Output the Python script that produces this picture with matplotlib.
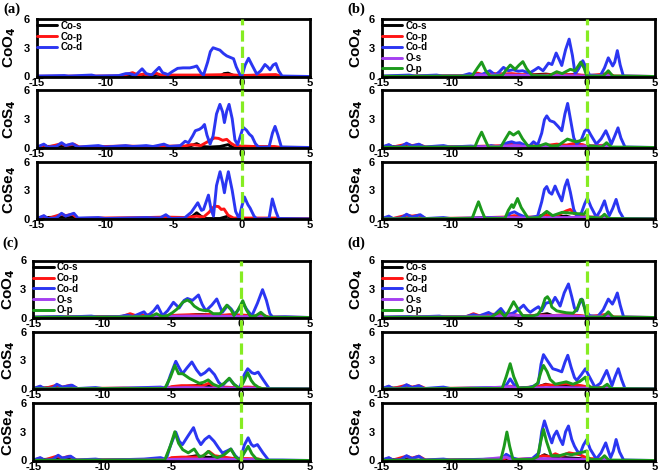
import matplotlib
matplotlib.use("Agg")
import matplotlib.pyplot as plt

plt.rcParams['font.family'] = ['Liberation Sans', 'DejaVu Sans']
plt.rcParams['font.weight'] = 'bold'
plt.rcParams['axes.unicode_minus'] = False

W, H = 661, 474

# energy axis / ticks
XTICKS = [-15, -10, -5, 0, 5]
YTICKS = [0, 3, 6]
ROW_NAMES = ['CoO$_\\mathbf{4}$', 'CoS$_\\mathbf{4}$', 'CoSe$_\\mathbf{4}$']

# ---------------- (a) ----------------
A_COO4 = {
    'Co-s': [(-15, 0), (-6.6, 0), (-6.2, 0.25), (-5.8, 0), (-1.6, 0), (-1.3, 0.3), (-1.0, 0.35), (-0.6, 0.1), (-0.3, 0), (5, 0)],
    'Co-p': [(-15, 0.02), (-9, 0.05), (-8.5, 0.2), (-8.0, 0.4), (-7.6, 0.15), (-7.2, 0.25), (-6.8, 0.1), (-6.3, 0.35), (-5.8, 0.1),
             (-5, 0.15), (-3, 0.15), (-1, 0.2), (0, 0.1), (1, 0.15), (2.5, 0.2), (2.9, 0), (5, 0)],
    'Co-d': [(-15, 0.05), (-13, 0.1), (-12.7, 0.05), (-11, 0.15), (-10.7, 0.05), (-9, 0.1), (-8.5, 0.3), (-8.2, 0.3), (-7.8, 0.1),
             (-7.3, 0.8), (-7.0, 0.3), (-6.6, 0.15), (-6.3, 0.6), (-6.05, 0.95), (-5.8, 0.4), (-5.4, 0.2), (-5.1, 0.5), (-4.7, 0.85),
             (-4.3, 0.9), (-3.8, 0.9), (-3.5, 1.0), (-3.3, 1.1), (-3.0, 0.4), (-2.8, 0.15), (-2.5, 1.5), (-2.3, 2.6), (-2.1, 3.0),
             (-1.8, 2.85), (-1.6, 2.75), (-1.34, 2.4), (-1.1, 2.15), (-0.85, 2.0), (-0.6, 1.85), (-0.4, 1.0), (-0.1, 0.1), (0.0, 0.0),
             (0.25, 1.2), (0.5, 1.9), (0.75, 1.2), (1.1, 0.25), (1.4, 0.6), (1.7, 1.25), (1.9, 1.0), (2.07, 0.7), (2.3, 1.2),
             (2.5, 1.35), (2.7, 0.6), (2.95, 0.05), (5, 0.0)],
}
A_COS4 = {
    'Co-s': [(-15, 0), (-14.5, 0.1), (-13.2, 0.15), (-12.3, 0.1), (-12, 0), (-4.2, 0), (-3.8, 0.15), (-3.3, 0.4), (-2.9, 0.1),
             (-2.3, 0.05), (-1.6, 0.1), (-1.0, 0.3), (-0.7, 0.05), (5, 0)],
    'Co-p': [(-15, 0.02), (-14.5, 0.25), (-14.2, 0.05), (-13.2, 0.4), (-12.9, 0.2), (-12.3, 0.35), (-11.9, 0.05), (-8.5, 0.15),
             (-7, 0.1), (-5, 0.15), (-4.2, 0.15), (-3.7, 0.3), (-3.0, 0.2), (-2.5, 0.6), (-2.0, 1.0), (-1.7, 0.95), (-1.4, 0.75),
             (-1.1, 0.85), (-0.8, 0.45), (-0.5, 0.2), (0, 0.15), (1.0, 0.1), (2.4, 0.1), (2.8, 0.0), (5, 0)],
    'Co-d': [(-15, 0.05), (-14.5, 0.35), (-14.2, 0.05), (-13.6, 0.1), (-13.2, 0.5), (-12.9, 0.2), (-12.4, 0.4), (-12.0, 0.05),
             (-10.5, 0.2), (-10.0, 0.05), (-8.5, 0.2), (-8.0, 0.1), (-7.0, 0.2), (-6.5, 0.1), (-5.7, 0.35), (-5.3, 0.1), (-4.5, 0.2),
             (-4.15, 0.65), (-3.9, 0.5), (-3.6, 1.2), (-3.4, 1.75), (-3.1, 1.9), (-2.9, 2.1), (-2.73, 2.4), (-2.55, 1.3), (-2.32, 0.35),
             (-2.1, 1.2), (-1.85, 3.5), (-1.6, 4.5), (-1.4, 3.7), (-1.27, 2.6), (-1.1, 3.8), (-0.93, 4.5), (-0.7, 3.0), (-0.5, 0.8),
             (-0.3, 0.3), (-0.1, 1.2), (0.1, 2.1), (0.35, 1.8), (0.55, 1.4), (0.75, 1.15), (1.0, 0.4), (1.25, 0.02), (2.0, 0.05),
             (2.25, 1.5), (2.44, 2.2), (2.65, 1.3), (2.9, 0.05), (5, 0)],
}
A_COSE4 = {
    'Co-s': [(-15, 0), (-14.5, 0.15), (-13.2, 0.2), (-12.3, 0.2), (-12, 0), (-4.0, 0), (-3.6, 0.3), (-3.3, 0.65), (-3.0, 0.3),
             (-2.7, 0.05), (-1.6, 0.05), (-1.0, 0.3), (-0.7, 0.05), (5, 0)],
    'Co-p': [(-15, 0.02), (-14.5, 0.3), (-14.2, 0.05), (-13.2, 0.5), (-12.9, 0.35), (-12.4, 0.5), (-12.0, 0.05), (-10.5, 0.1),
             (-7, 0.15), (-5.6, 0.2), (-4, 0.15), (-3.3, 0.3), (-2.8, 0.2), (-2.4, 0.7), (-2.0, 1.35), (-1.7, 1.3), (-1.5, 1.0),
             (-1.3, 1.05), (-1.0, 0.4), (-0.6, 0.1), (0, 0.1), (2.5, 0.1), (2.8, 0), (5, 0)],
    'Co-d': [(-15, 0.05), (-14.5, 0.35), (-14.2, 0.05), (-13.6, 0.1), (-13.2, 0.6), (-12.9, 0.3), (-12.3, 0.6), (-12.0, 0.1),
             (-10.5, 0.15), (-10, 0.05), (-7, 0.15), (-6, 0.1), (-5.56, 0.45), (-5.2, 0.05), (-4.2, 0.1), (-3.7, 0.7), (-3.22, 1.7),
             (-2.95, 0.9), (-2.8, 1.0), (-2.44, 2.5), (-2.25, 1.0), (-2.07, 0.3), (-1.85, 3.5), (-1.59, 4.95), (-1.4, 3.8),
             (-1.27, 2.75), (-1.15, 3.8), (-0.98, 4.95), (-0.7, 3.0), (-0.45, 0.8), (-0.2, 0.05), (0.0, 1.3), (0.2, 2.3), (0.45, 1.5),
             (0.61, 1.15), (0.9, 0.3), (1.1, 0.0), (2.0, 0.05), (2.24, 2.1), (2.5, 0.8), (2.7, 0.05), (5, 0)],
}

# ---------------- (b) ----------------
B_COO4 = {
    'Co-s': [(-15, 0), (-8.5, 0), (-8.1, 0.3), (-7.8, 0.1), (-6.2, 0.25), (-5, 0.1), (-3, 0.25), (-2, 0.1), (-1, 0.2), (0, 0.05),
             (1.6, 0.15), (2, 0), (5, 0)],
    'Co-p': [(-15, 0.02), (-8.6, 0.1), (-8.0, 0.35), (-7.6, 0.2), (-6.8, 0.3), (-6.2, 0.25), (-5.5, 0.3), (-4.8, 0.2), (-3.5, 0.15),
             (-2.4, 0.2), (-1.5, 0.2), (-0.5, 0.15), (0.2, 0.1), (1.6, 0.3), (2.0, 0.05), (5, 0)],
    'Co-d': [(-15, 0.05), (-13, 0.15), (-12.6, 0.05), (-11, 0.15), (-10.6, 0.05), (-9.2, 0.05), (-8.6, 0.3), (-8.2, 0.15),
             (-7.7, 0.2), (-7.1, 0.6), (-6.7, 0.15), (-6.4, 0.5), (-6.1, 0.95), (-5.75, 0.6), (-5.4, 0.7), (-5.0, 0.55), (-4.7, 0.6),
             (-4.2, 0.35), (-3.8, 0.7), (-3.54, 0.95), (-3.2, 0.6), (-2.8, 1.4), (-2.55, 1.25), (-2.24, 2.45), (-2.0, 1.7),
             (-1.83, 1.15), (-1.55, 2.8), (-1.29, 3.9), (-1.05, 2.2), (-0.85, 0.25), (-0.6, 0.8), (-0.29, 1.65), (0.0, 0.8),
             (0.2, 0.15), (1.0, 0.1), (1.3, 0.9), (1.58, 1.95), (1.9, 1.1), (2.05, 1.5), (2.24, 2.7), (2.45, 1.2), (2.68, 0.05), (5, 0)],
    'O-s': [(-15, 0), (-8.5, 0.05), (-8, 0.15), (-6, 0.15), (-4, 0.1), (-2, 0.1), (0, 0.05), (1.6, 0.1), (2, 0), (5, 0)],
    'O-p': [(-15, 0.02), (-8.4, 0.05), (-8.0, 0.9), (-7.7, 1.5), (-7.4, 0.6), (-7.1, 0.05), (-6.2, 0.1), (-5.9, 0.7), (-5.6, 1.2),
            (-5.25, 0.75), (-4.95, 1.2), (-4.68, 1.55), (-4.4, 0.8), (-4.0, 0.1), (-2.8, 0.05), (-2.2, 0.5), (-1.8, 0.3), (-1.2, 0.75),
            (-0.85, 0.6), (-0.44, 1.5), (-0.2, 0.9), (0.0, 0.05), (1.2, 0.05), (1.58, 0.6), (1.9, 0.05), (5, 0)],
}
B_COS4 = {
    'Co-s': [(-15, 0), (-14.5, 0.1), (-13.2, 0.1), (-12, 0), (-6, 0.1), (-5.3, 0.3), (-4.8, 0.15), (-3, 0.1), (-1.5, 0.2), (0, 0.1),
             (1.5, 0.1), (1.8, 0), (5, 0)],
    'Co-p': [(-15, 0.02), (-14.5, 0.25), (-14.2, 0.05), (-13.2, 0.35), (-12.8, 0.2), (-12.3, 0.3), (-11.8, 0.05), (-8.5, 0.1),
             (-6, 0.2), (-5.3, 0.4), (-4.8, 0.35), (-4.3, 0.15), (-3, 0.2), (-2.2, 0.35), (-1.5, 0.25), (-1.0, 0.4), (-0.3, 0.3),
             (0.0, 0.15), (1.5, 0.25), (1.8, 0), (5, 0)],
    'Co-d': [(-15, 0.05), (-14.5, 0.3), (-14.2, 0.05), (-13.6, 0.1), (-13.2, 0.45), (-12.8, 0.15), (-12.3, 0.35), (-11.9, 0.05),
             (-10.5, 0.2), (-10, 0.05), (-8.5, 0.15), (-7.5, 0.05), (-7.0, 0.2), (-6.5, 0.05), (-5.8, 0.5), (-5.5, 0.6), (-5.2, 0.45),
             (-4.9, 0.5), (-4.5, 0.2), (-4.2, 0.15), (-3.9, 0.6), (-3.6, 0.25), (-3.3, 1.5), (-3.1, 2.9), (-2.93, 3.3), (-2.7, 2.8),
             (-2.4, 2.65), (-2.1, 2.2), (-1.83, 1.75), (-1.6, 3.5), (-1.4, 4.6), (-1.2, 3.0), (-0.95, 1.0), (-0.73, 0.35), (-0.4, 0.8),
             (-0.15, 1.7), (0.05, 1.95), (0.3, 1.3), (0.7, 0.35), (1.05, 0.9), (1.4, 1.75), (1.6, 1.1), (1.8, 0.35), (2.05, 1.2),
             (2.29, 2.05), (2.5, 1.0), (2.8, 0.05), (5, 0)],
    'O-s': [(-15, 0), (-8, 0.05), (-6, 0.15), (-5.3, 0.2), (-4.5, 0.1), (-3, 0.1), (-1.5, 0.1), (0, 0.15), (1.5, 0.15), (1.8, 0), (5, 0)],
    'O-p': [(-15, 0.02), (-8.2, 0.05), (-7.95, 0.9), (-7.7, 1.6), (-7.45, 0.8), (-7.2, 0.05), (-6.3, 0.05), (-6.0, 0.8), (-5.66, 1.6),
            (-5.37, 1.3), (-5.0, 1.65), (-4.7, 0.9), (-4.3, 0.15), (-3.6, 0.1), (-3.0, 0.4), (-2.6, 0.15), (-2.1, 0.2), (-1.42, 0.88),
            (-0.8, 0.6), (-0.2, 0.8), (0.0, 1.05), (0.1, 0.2), (1.1, 0.05), (1.45, 0.5), (1.8, 0.05), (5, 0)],
}
B_COSE4 = {
    'Co-s': [(-15, 0), (-13.2, 0.1), (-12, 0), (-6, 0.05), (-5.3, 0.2), (-4, 0.05), (-3, 0.5), (-2.7, 0.2), (-1.5, 0.3), (-1, 0.1),
             (0, 0.1), (1.3, 0.05), (5, 0)],
    'Co-p': [(-15, 0.02), (-14.5, 0.2), (-14.2, 0.05), (-13.2, 0.4), (-12.8, 0.3), (-12.3, 0.4), (-11.8, 0.05), (-8.5, 0.1),
             (-6, 0.2), (-5.3, 0.35), (-4.6, 0.2), (-3.5, 0.2), (-3.0, 0.45), (-2.6, 0.2), (-2.0, 0.5), (-1.5, 0.85), (-1.2, 1.0),
             (-0.9, 0.55), (-0.4, 0.3), (0.1, 0.2), (1.3, 0.2), (1.6, 0), (5, 0)],
    'Co-d': [(-15, 0.05), (-14.5, 0.3), (-14.2, 0.05), (-13.6, 0.1), (-13.2, 0.5), (-12.8, 0.2), (-12.2, 0.45), (-11.8, 0.05),
             (-10.5, 0.15), (-10, 0.05), (-8.5, 0.1), (-7, 0.15), (-6, 0.1), (-5.6, 0.6), (-5.3, 0.75), (-5.0, 0.5), (-4.5, 0.2),
             (-4.2, 0.15), (-3.6, 0.3), (-3.3, 1.8), (-3.1, 3.1), (-2.93, 3.4), (-2.75, 2.8), (-2.56, 2.6), (-2.32, 3.45), (-2.1, 2.7),
             (-1.83, 1.9), (-1.6, 3.4), (-1.42, 4.1), (-1.2, 2.8), (-0.95, 1.0), (-0.73, 0.35), (-0.4, 0.6), (-0.15, 1.6), (0.05, 2.2),
             (0.3, 1.3), (0.7, 0.2), (1.0, 0.9), (1.3, 1.9), (1.5, 0.9), (1.65, 0.35), (1.9, 1.1), (2.15, 2.05), (2.4, 0.8),
             (2.7, 0.05), (5, 0)],
    'O-s': [(-15, 0), (-8, 0.05), (-5.5, 0.15), (-4.5, 0.1), (-3, 0.15), (-1.5, 0.15), (0, 0.2), (1.3, 0.15), (1.6, 0), (5, 0)],
    'O-p': [(-15, 0.02), (-8.4, 0.05), (-8.15, 1.0), (-7.93, 1.8), (-7.7, 0.9), (-7.45, 0.05), (-6.0, 0.05), (-5.75, 0.9),
            (-5.49, 1.5), (-5.37, 1.2), (-5.07, 2.15), (-4.8, 1.2), (-4.3, 0.1), (-3.5, 0.15), (-2.93, 0.8), (-2.5, 0.35),
            (-1.8, 0.7), (-1.0, 0.6), (-0.2, 0.5), (0.0, 0.9), (0.1, 0.2), (1.0, 0.1), (1.3, 0.5), (1.6, 0.05), (5, 0)],
}

# ---------------- (c) ----------------
C_COO4 = {
    'Co-s': [(-15, 0), (-8.5, 0.1), (-8.0, 0.2), (-7, 0.1), (-6.2, 0.15), (-5, 0.1), (-4.0, 0.15), (-3.3, 0.3), (-2.5, 0.3),
             (-2, 0.25), (-1, 0.15), (0.2, 0.1), (1.5, 0.1), (2, 0), (5, 0)],
    'Co-p': [(-15, 0.02), (-8.6, 0.1), (-8.0, 0.4), (-7.6, 0.2), (-6.5, 0.3), (-6.0, 0.1), (-5.2, 0.2), (-4.5, 0.25), (-3.5, 0.3),
             (-2.8, 0.25), (-2.2, 0.35), (-1.6, 0.2), (-0.8, 0.3), (0.2, 0.25), (1.0, 0.15), (1.5, 0.3), (2.0, 0.05), (5, 0)],
    'Co-d': [(-15, 0.05), (-13, 0.1), (-12.6, 0.05), (-10.8, 0.15), (-10.4, 0.05), (-8.8, 0.1), (-8.2, 0.25), (-7.8, 0.1),
             (-7.0, 0.6), (-6.75, 0.15), (-6.3, 0.7), (-6.02, 1.24), (-5.8, 0.6), (-5.66, 0.2), (-5.3, 0.7), (-4.87, 1.6),
             (-4.46, 1.0), (-4.1, 1.8), (-3.86, 2.0), (-3.5, 1.8), (-3.06, 2.37), (-2.8, 1.4), (-2.53, 0.7), (-2.1, 1.3),
             (-1.74, 1.95), (-1.5, 1.1), (-1.33, 0.55), (-0.96, 1.25), (-0.7, 0.9), (-0.41, 0.3), (-0.1, 1.0), (0.19, 1.4),
             (0.45, 0.8), (0.8, 0.18), (1.2, 1.5), (1.57, 2.93), (1.85, 1.8), (2.1, 0.4), (2.3, 0.05), (3.2, 0.08), (5, 0)],
    'O-s': [(-15, 0), (-8.5, 0.05), (-6, 0.1), (-4, 0.15), (-2, 0.15), (0, 0.1), (1.5, 0.1), (2, 0), (5, 0)],
    'O-p': [(-15, 0.02), (-8.5, 0.05), (-6.5, 0.1), (-6.1, 0.4), (-5.7, 0.1), (-5.3, 0.2), (-4.95, 0.5), (-4.6, 0.9), (-4.2, 1.6),
            (-3.86, 1.84), (-3.6, 1.6), (-3.37, 1.2), (-3.0, 0.85), (-2.7, 0.75), (-2.3, 0.7), (-2.0, 0.4), (-1.5, 0.4),
            (-1.01, 1.3), (-0.7, 0.8), (-0.5, 0.2), (-0.2, 0.8), (0.14, 1.77), (0.4, 0.8), (0.7, 0.1), (1.1, 0.2), (1.45, 0.55),
            (1.8, 0.1), (2.0, 0.02), (5, 0)],
}
C_COS4 = {
    'Co-s': [(-15, 0), (-14.5, 0.1), (-13.3, 0.15), (-12.1, 0.1), (-11.8, 0), (-5.3, 0), (-4.8, 0.15), (-4.0, 0.25), (-3.0, 0.4),
             (-2.5, 0.3), (-1.5, 0.15), (-0.5, 0.1), (0.5, 0.1), (1.5, 0.05), (1.8, 0), (5, 0)],
    'Co-p': [(-15, 0.02), (-14.5, 0.25), (-14.2, 0.05), (-13.3, 0.4), (-12.9, 0.2), (-12.3, 0.4), (-11.8, 0.05), (-8.5, 0.1),
             (-5.4, 0.05), (-5.0, 0.25), (-4.3, 0.35), (-3.5, 0.35), (-2.8, 0.3), (-2.3, 0.6), (-1.9, 0.3), (-1.2, 0.2),
             (-0.5, 0.15), (0.5, 0.2), (1.3, 0.15), (1.6, 0), (5, 0)],
    'Co-d': [(-15, 0.05), (-14.5, 0.3), (-14.2, 0.05), (-13.6, 0.1), (-13.3, 0.5), (-12.9, 0.2), (-12.2, 0.4), (-11.8, 0.05),
             (-10.5, 0.15), (-10, 0.05), (-8.2, 0.1), (-5.8, 0.2), (-5.4, 0.1), (-5.1, 1.4), (-4.7, 2.9), (-4.45, 2.2),
             (-4.22, 1.6), (-3.9, 2.2), (-3.54, 2.83), (-3.2, 2.0), (-2.9, 1.45), (-2.6, 1.7), (-2.29, 2.12), (-1.9, 1.5),
             (-1.6, 0.7), (-1.33, 0.35), (-1.05, 0.8), (-0.8, 1.06), (-0.5, 0.5), (-0.1, 0.05), (0.25, 1.5), (0.5, 2.12),
             (0.8, 1.7), (1.0, 1.6), (1.25, 1.77), (1.6, 1.0), (2.05, 0.05), (3.0, 0.05), (5, 0)],
    'O-s': [(-15, 0), (-8, 0.05), (-5.3, 0.1), (-4, 0.15), (-2, 0.1), (0, 0.1), (1.3, 0.1), (1.6, 0), (5, 0)],
    'O-p': [(-15, 0.02), (-8.5, 0.05), (-5.5, 0.05), (-5.1, 1.2), (-4.77, 2.47), (-4.5, 1.6), (-4.2, 1.6), (-3.7, 1.1),
            (-3.0, 0.6), (-2.7, 0.7), (-2.36, 0.95), (-2.0, 0.5), (-1.6, 0.25), (-1.2, 0.6), (-0.84, 1.13), (-0.5, 0.5),
            (-0.05, 0.02), (0.25, 0.9), (0.5, 1.7), (0.75, 0.9), (0.96, 0.5), (1.3, 0.15), (1.6, 0.02), (5, 0)],
}
C_COSE4 = {
    'Co-s': [(-15, 0), (-14.5, 0.1), (-13.3, 0.15), (-12.1, 0.1), (-11.8, 0), (-5.3, 0), (-4.8, 0.2), (-4.0, 0.3), (-3.2, 0.5),
             (-2.6, 0.35), (-1.8, 0.3), (-1.0, 0.2), (0, 0.1), (1.3, 0.05), (1.6, 0), (5, 0)],
    'Co-p': [(-15, 0.02), (-14.5, 0.25), (-14.2, 0.05), (-13.3, 0.45), (-12.9, 0.25), (-12.4, 0.45), (-11.9, 0.05), (-8.5, 0.1),
             (-5.4, 0.05), (-5.0, 0.3), (-4.3, 0.35), (-3.5, 0.35), (-2.8, 0.4), (-2.3, 0.95), (-1.9, 0.5), (-1.2, 0.35),
             (-0.5, 0.2), (0.5, 0.2), (1.3, 0.15), (1.6, 0), (5, 0)],
    'Co-d': [(-15, 0.05), (-14.5, 0.3), (-14.2, 0.05), (-13.6, 0.1), (-13.2, 0.55), (-12.9, 0.25), (-12.3, 0.45), (-11.9, 0.05),
             (-10.5, 0.15), (-10, 0.05), (-8.2, 0.1), (-7, 0.15), (-5.8, 0.3), (-5.4, 0.1), (-5.1, 1.5), (-4.7, 2.96), (-4.45, 2.0),
             (-4.22, 1.66), (-3.8, 2.6), (-3.42, 3.43), (-3.15, 2.3), (-2.89, 1.66), (-2.6, 2.2), (-2.29, 2.54), (-1.93, 2.0),
             (-1.6, 1.3), (-1.33, 0.78), (-1.0, 1.0), (-0.72, 1.2), (-0.4, 0.5), (-0.05, 0.02), (0.25, 1.6), (0.53, 2.37),
             (0.75, 1.7), (0.92, 1.48), (1.2, 1.66), (1.6, 0.8), (2.0, 0.05), (3, 0.05), (5, 0)],
    'O-s': [(-15, 0), (-8, 0.05), (-5.3, 0.1), (-4, 0.15), (-2, 0.15), (0, 0.1), (1.3, 0.1), (1.6, 0), (5, 0)],
    'O-p': [(-15, 0.02), (-8.5, 0.05), (-5.5, 0.05), (-5.1, 1.5), (-4.77, 3.0), (-4.5, 1.8), (-4.2, 1.13), (-3.8, 0.8),
            (-3.37, 1.2), (-3.0, 0.4), (-2.7, 0.5), (-2.36, 0.95), (-2.0, 0.5), (-1.7, 0.3), (-1.2, 0.6), (-0.72, 1.2),
            (-0.4, 0.4), (-0.05, 0.02), (0.25, 0.8), (0.53, 1.48), (0.8, 0.7), (1.1, 0.2), (1.5, 0.02), (5, 0)],
}

# ---------------- (d) ----------------
D_COO4 = {
    'Co-s': [(-15, 0), (-8.8, 0.05), (-8.3, 0.3), (-7.9, 0.1), (-6.5, 0.2), (-5.5, 0.15), (-4.5, 0.1), (-3.3, 0.3), (-2.9, 0.4),
             (-2.5, 0.2), (-1.5, 0.2), (-0.5, 0.15), (0.2, 0.05), (1.6, 0.1), (2, 0), (5, 0)],
    'Co-p': [(-15, 0.02), (-8.8, 0.1), (-8.3, 0.4), (-7.9, 0.2), (-7.0, 0.35), (-6.5, 0.3), (-5.5, 0.4), (-5.0, 0.2), (-4.2, 0.2),
             (-3.3, 0.25), (-2.5, 0.2), (-1.5, 0.3), (-0.5, 0.2), (0.2, 0.1), (1.6, 0.35), (2, 0.05), (5, 0)],
    'Co-d': [(-15, 0.05), (-13, 0.1), (-12.6, 0.05), (-10.8, 0.15), (-10.4, 0.05), (-9, 0.05), (-8.3, 0.3), (-7.9, 0.15),
             (-7.19, 0.53), (-6.83, 0.2), (-6.55, 0.6), (-6.29, 0.95), (-6.0, 0.4), (-5.85, 0.2), (-5.36, 0.5), (-4.95, 0.9),
             (-4.63, 1.3), (-4.35, 0.8), (-4.14, 0.55), (-3.8, 0.9), (-3.54, 1.13), (-3.3, 0.7), (-3.0, 1.5), (-2.75, 1.6),
             (-2.55, 1.5), (-2.32, 2.12), (-2.1, 1.6), (-1.95, 1.2), (-1.65, 2.6), (-1.34, 3.53), (-1.1, 2.2), (-0.9, 1.0),
             (-0.73, 0.7), (-0.55, 1.4), (-0.37, 1.94), (-0.15, 1.0), (0.2, 0.2), (0.8, 0.1), (1.2, 0.8), (1.58, 1.94),
             (1.88, 1.41), (2.05, 1.9), (2.24, 2.58), (2.45, 1.3), (2.7, 0.05), (5, 0)],
    'O-s': [(-15, 0), (-8.5, 0.1), (-6.5, 0.15), (-5.5, 0.25), (-4, 0.15), (-2, 0.2), (0, 0.1), (1.6, 0.15), (2, 0), (5, 0)],
    'O-p': [(-15, 0.02), (-8.5, 0.05), (-7, 0.05), (-6.6, 0.4), (-6.35, 0.67), (-6.0, 0.1), (-5.75, 0.6), (-5.36, 1.66),
            (-5.0, 0.8), (-4.7, 0.2), (-4.0, 0.15), (-3.6, 0.3), (-3.3, 0.9), (-3.05, 2.0), (-2.88, 2.19), (-2.7, 1.8),
            (-2.56, 1.1), (-2.2, 0.7), (-1.5, 0.5), (-1.0, 0.45), (-0.7, 0.9), (-0.45, 1.9), (-0.3, 1.85), (-0.1, 0.6),
            (0.0, 0.05), (1.2, 0.05), (1.58, 0.6), (1.9, 0.05), (5, 0)],
}
D_COS4 = {
    'Co-s': [(-15, 0), (-14.5, 0.1), (-13.2, 0.1), (-12, 0), (-6.2, 0), (-5.6, 0.2), (-5, 0.05), (-3.6, 0.2), (-3.0, 0.5),
             (-2.5, 0.3), (-1.5, 0.35), (-0.5, 0.2), (0, 0.1), (1.5, 0.1), (1.8, 0), (5, 0)],
    'Co-p': [(-15, 0.02), (-14.5, 0.25), (-14.2, 0.05), (-13.2, 0.4), (-12.8, 0.2), (-12.3, 0.35), (-11.8, 0.05), (-8.5, 0.1),
             (-6.2, 0.05), (-5.6, 0.3), (-5.0, 0.1), (-3.6, 0.25), (-3.0, 0.45), (-2.5, 0.4), (-2.0, 0.5), (-1.5, 0.55),
             (-1.0, 0.45), (-0.4, 0.35), (0.1, 0.2), (1.5, 0.15), (1.8, 0), (5, 0)],
    'Co-d': [(-15, 0.05), (-14.5, 0.3), (-14.2, 0.05), (-13.6, 0.1), (-13.2, 0.45), (-12.8, 0.15), (-12.3, 0.35), (-11.9, 0.05),
             (-10.5, 0.2), (-10, 0.05), (-8.5, 0.1), (-7, 0.15), (-6.2, 0.05), (-5.85, 0.5), (-5.61, 1.06), (-5.35, 0.5),
             (-5.0, 0.1), (-4.3, 0.15), (-3.9, 0.3), (-3.55, 0.6), (-3.35, 2.6), (-3.17, 3.6), (-2.9, 3.0), (-2.49, 2.12),
             (-2.2, 2.0), (-1.83, 1.8), (-1.6, 2.8), (-1.39, 3.53), (-1.15, 2.3), (-0.9, 1.2), (-0.73, 0.9), (-0.4, 1.5),
             (-0.1, 2.12), (0.15, 1.4), (0.6, 0.2), (1.0, 0.6), (1.46, 1.94), (1.65, 1.2), (1.85, 0.35), (2.05, 1.2),
             (2.31, 2.12), (2.55, 1.0), (2.8, 0.05), (5, 0)],
    'O-s': [(-15, 0), (-8, 0.05), (-5.6, 0.25), (-5, 0.05), (-3, 0.15), (-1.5, 0.15), (0, 0.1), (1.5, 0.1), (1.8, 0), (5, 0)],
    'O-p': [(-15, 0.02), (-8.5, 0.05), (-6.2, 0.05), (-5.9, 1.3), (-5.61, 2.65), (-5.35, 1.3), (-5.0, 0.1), (-4.0, 0.15),
            (-3.6, 0.6), (-3.35, 1.8), (-3.17, 2.47), (-2.9, 1.8), (-2.68, 1.0), (-2.3, 0.5), (-1.5, 0.75), (-1.0, 0.5),
            (-0.5, 0.8), (-0.1, 1.24), (0.1, 0.4), (0.3, 0.15), (1.1, 0.1), (1.5, 0.5), (1.8, 0.05), (5, 0)],
}
D_COSE4 = {
    'Co-s': [(-15, 0), (-14.5, 0.1), (-13.2, 0.1), (-12, 0), (-6.2, 0), (-5.9, 0.2), (-5.5, 0.05), (-3.8, 0.1), (-3.1, 0.6),
             (-2.6, 0.3), (-1.5, 0.3), (-0.5, 0.2), (0, 0.1), (1.3, 0.05), (1.6, 0), (5, 0)],
    'Co-p': [(-15, 0.02), (-14.5, 0.25), (-14.2, 0.05), (-13.2, 0.45), (-12.8, 0.25), (-12.3, 0.45), (-11.8, 0.05), (-8.5, 0.1),
             (-6.2, 0.05), (-5.9, 0.3), (-5.5, 0.1), (-3.8, 0.2), (-3.2, 0.5), (-2.7, 0.4), (-2.3, 0.7), (-1.9, 0.45),
             (-1.3, 0.8), (-0.9, 0.7), (-0.5, 0.6), (0.1, 0.2), (1.3, 0.15), (1.6, 0), (5, 0)],
    'Co-d': [(-15, 0.05), (-14.5, 0.3), (-14.2, 0.05), (-13.6, 0.1), (-13.2, 0.5), (-12.8, 0.2), (-12.3, 0.45), (-11.9, 0.05),
             (-10.5, 0.15), (-10, 0.05), (-8.5, 0.1), (-7, 0.15), (-6.3, 0.1), (-5.9, 0.65), (-5.5, 0.3), (-5.0, 0.1), (-4.0, 0.2),
             (-3.5, 0.8), (-3.3, 3.0), (-3.1, 4.13), (-2.85, 3.0), (-2.56, 1.84), (-2.4, 2.6), (-2.2, 3.07), (-1.95, 2.2),
             (-1.76, 1.66), (-1.55, 3.0), (-1.34, 3.6), (-1.1, 2.2), (-0.9, 1.5), (-0.7, 1.0), (-0.49, 0.7), (-0.25, 1.6),
             (0.0, 2.19), (0.25, 1.2), (0.7, 0.15), (1.05, 0.8), (1.39, 1.84), (1.6, 0.9), (1.75, 0.3), (1.95, 1.0), (2.15, 2.19),
             (2.4, 0.9), (2.7, 0.05), (5, 0)],
    'O-s': [(-15, 0), (-8, 0.05), (-5.9, 0.35), (-5.5, 0.1), (-3.2, 0.2), (-1.5, 0.15), (0, 0.1), (1.3, 0.1), (1.6, 0), (5, 0)],
    'O-p': [(-15, 0.02), (-8.5, 0.05), (-6.3, 0.05), (-6.05, 1.5), (-5.85, 2.97), (-5.65, 1.5), (-5.4, 0.1), (-4.0, 0.1),
            (-3.6, 0.4), (-3.4, 1.8), (-3.17, 3.25), (-2.95, 2.0), (-2.6, 0.5), (-2.0, 0.5), (-1.5, 0.7), (-1.1, 0.6),
            (-0.5, 0.8), (-0.2, 0.9), (0.0, 1.0), (0.1, 0.3), (0.3, 0.1), (1.0, 0.1), (1.3, 0.5), (1.6, 0.05), (5, 0)],
}

COLORS = {'Co-s': 'black', 'Co-p': '#ff1414', 'Co-d': '#2b36f2', 'O-s': '#a53ff0', 'O-p': '#1c9a1c'}
ORDER = ['Co-s', 'Co-p', 'Co-d', 'O-s', 'O-p']


def draw_panel(fig, tag, tag_xy, left, right, rows, ylab_right, subplots):
    fig.text(tag_xy[0] / W, 1 - tag_xy[1] / H, tag, family='Liberation Serif',
             fontweight='bold', fontsize=10.5, va='top', ha='left')
    for k, ((top, bot), curves) in enumerate(zip(rows, subplots)):
        ax = fig.add_axes([left / W, 1 - bot / H, (right - left) / W, (bot - top) / H])
        for name in ORDER:
            if name not in curves:
                continue
            e = [p[0] for p in curves[name]]
            d = [p[1] for p in curves[name]]
            ax.plot(e, d, color=COLORS[name], lw=2.1, label=name,
                    solid_joinstyle='round', solid_capstyle='round')
        # Fermi level
        ax.axvline(0, ymin=-0.24 if k < 2 else 0, ymax=1, color='#86ec22', lw=2.3,
                   ls=(0, (3.5, 1.6)), zorder=10, clip_on=False)
        ax.set_xlim(-15, 5)
        ax.set_ylim(0, 6)
        ax.set_xticks(XTICKS)
        ax.set_yticks(YTICKS)
        ax.tick_params(length=0, labelsize=8)
        ax.tick_params(axis='x', pad=1)
        ax.tick_params(axis='y', pad=5)
        for s in ax.spines.values():
            s.set_linewidth(2.0)
        ax.set_ylabel(ROW_NAMES[k], fontsize=11, fontweight='bold')
        ax.yaxis.set_label_coords((ylab_right - left) / (right - left), 0.5)
        if k == 0:
            ax.legend(loc='upper left', bbox_to_anchor=(0.0, 0.97), frameon=False, fontsize=7,
                      handlelength=2.1, handletextpad=0.3, labelspacing=0.08, borderpad=0,
                      borderaxespad=0)


fig = plt.figure(figsize=(W / 100, H / 100), dpi=100)

ROWS_TOP = [(19, 76.5), (90, 147.5), (161.7, 219)]
ROWS_BOT = [(260.5, 317.5), (331.7, 389), (403, 460.5)]

draw_panel(fig, '(a)', (3, 3), 37, 310, ROWS_TOP, 18, [A_COO4, A_COS4, A_COSE4])
draw_panel(fig, '(b)', (347, 3), 382, 655, ROWS_TOP, 365, [B_COO4, B_COS4, B_COSE4])
draw_panel(fig, '(c)', (2, 237), 33.3, 310, ROWS_BOT, 17, [C_COO4, C_COS4, C_COSE4])
draw_panel(fig, '(d)', (347, 237), 382, 655, ROWS_BOT, 365, [D_COO4, D_COS4, D_COSE4])

fig.savefig('out.png', dpi=100)
